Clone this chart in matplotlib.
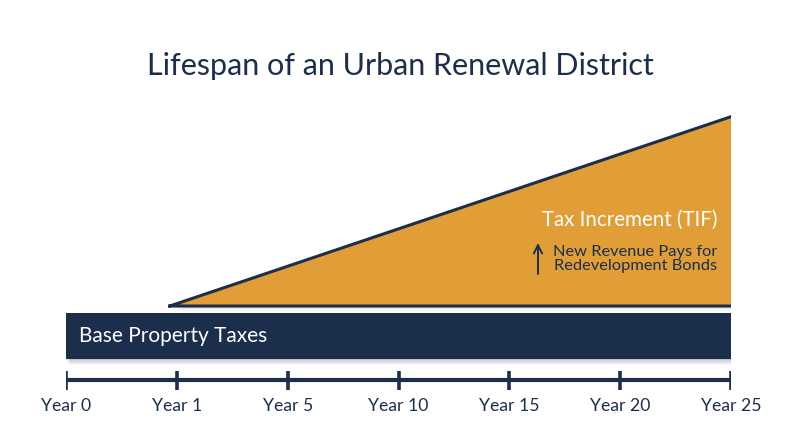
import matplotlib
matplotlib.use("Agg")
import matplotlib.pyplot as plt
from matplotlib.patches import Polygon, Rectangle

# ---- data ----
year_labels = ["Year 0", "Year 1", "Year 5", "Year 10", "Year 15", "Year 20", "Year 25"]
increment_start = 1          # index where the tax increment starts (Year 1)
increment_end = 6            # index where the district ends (Year 25)
increment_values = [0.0, 1.0]  # relative increment at start and end
title = "Lifespan of an Urban Renewal District"
base_label = "Base Property Taxes"
tif_label = "Tax Increment (TIF)"
tif_note = "New Revenue Pays for\nRedevelopment Bonds"

NAVY = "#1b2e4c"
ORANGE = "#e19e36"
FONT = ["Lato", "DejaVu Sans"]

W, H = 800, 447
fig = plt.figure(figsize=(W / 100, H / 100), dpi=100)
fig.patch.set_facecolor("white")

x0_px, x6_px = 66, 731
ax = fig.add_axes([x0_px / W, 0, (x6_px - x0_px) / W, 1])
ax.set_xlim(0, len(year_labels) - 1)
ax.set_ylim(0, H)
ax.axis("off")
ax.patch.set_alpha(0)

def py(y_px):  # pixel from top -> data y
    return H - y_px

unit = (x6_px - x0_px) / (len(year_labels) - 1)
def dx(px):
    return px / unit

# ---- base bar ----
bar_left, bar_right = 0, len(year_labels) - 1 + dx(3)
bar_top, bar_bot = py(313), py(359)
for i, a in enumerate([0.07, 0.06, 0.05, 0.04, 0.03]):
    off = 1.2 + i * 1.2
    ax.add_patch(Rectangle((bar_left + dx(off * 0.6), bar_bot - off),
                           bar_right - bar_left, bar_top - bar_bot,
                           facecolor="black", alpha=a, edgecolor="none", zorder=1))
ax.add_patch(Rectangle((bar_left, bar_bot), bar_right - bar_left, bar_top - bar_bot,
                       facecolor=NAVY, edgecolor="none", zorder=3))
ax.text(dx(13), (bar_top + bar_bot) / 2, base_label, color="white",
        fontsize=15, family=FONT, va="center", ha="left", zorder=5)

# ---- tax increment triangle ----
tri_base = py(306)
tri_height = py(116) - tri_base
xs = [increment_start - dx(7), increment_end + dx(2), increment_end + dx(2)]
ys = [tri_base + increment_values[0] * tri_height,
      tri_base + increment_values[1] * tri_height,
      tri_base]
for i, a in enumerate([0.06, 0.05, 0.04, 0.03]):
    off = 1.2 + i * 1.2
    ax.add_patch(Polygon([(x + dx(off), y - off) for x, y in zip(xs, ys)],
                         closed=True, facecolor="black", alpha=a,
                         edgecolor="none", zorder=1))
ax.add_patch(Polygon(list(zip(xs, ys)), closed=True, facecolor=ORANGE,
                     edgecolor="none", zorder=2))
ax.plot(xs + [xs[0]], ys + [ys[0]], color=NAVY, lw=2.2, zorder=2.5,
        solid_joinstyle="miter")

ax.text(increment_end - dx(14), py(220), tif_label, color="white",
        fontsize=14.8, family=FONT, ha="right", va="center", zorder=5)
ax.text(increment_end - dx(14), py(259), tif_note, color=NAVY,
        fontsize=11.8, family=FONT, ha="right", va="center",
        linespacing=1.08, zorder=5)
ax.annotate("", xy=(increment_end - dx(193), py(243)),
            xytext=(increment_end - dx(193), py(274)),
            arrowprops=dict(arrowstyle="->", color=NAVY, lw=1.4,
                            mutation_scale=15, shrinkA=0, shrinkB=0), zorder=5)

# ---- timeline axis ----
axis_y = py(380)
ax.plot([0, len(year_labels) - 1], [axis_y, axis_y], color=NAVY, lw=3,
        solid_capstyle="butt", zorder=3)
for i, lab in enumerate(year_labels):
    ax.plot([i, i], [py(371), py(390)], color=NAVY, lw=2.6,
            solid_capstyle="butt", zorder=3)
    ax.text(i, py(406), lab, color=NAVY, fontsize=12.7, family=FONT,
            ha="center", va="center")

# ---- title ----
fig.text(0.5, 1 - 66 / H, title, color=NAVY, fontsize=22, family=FONT,
         ha="center", va="center")

fig.savefig("out.png", dpi=100, facecolor="white")
